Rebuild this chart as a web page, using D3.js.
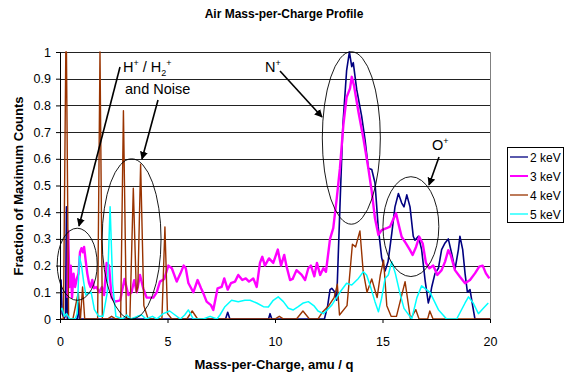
<!DOCTYPE html>
<html>
<head>
<meta charset="utf-8">
<script src="https://cdn.jsdelivr.net/npm/d3@7"></script>
<style>
  body { margin: 0; background: #fff; }
  text { font-family: "Liberation Sans", Arial, sans-serif; }
</style>
</head>
<body>
<script>
// [mass-per-charge, fraction of max counts]
var kev2 = [[0,0.03],[0.05,0.146],[0.1,0.02],[0.2,0],[0.26,0.02],[0.3,0.42],[0.34,0],[0.8,0],[0.85,0.06],[0.9,0],
  [7.7,0],[7.8,0.025],[7.9,0],[9.7,0],[9.77,0.02],[9.85,0],[12.3,0],[12.45,0.05],[12.56,0.11],[12.64,0.115],[12.79,0.1],
  [12.87,0.07],[13.02,0.42],[13.16,0.73],[13.33,0.93],[13.46,1.0],[13.57,0.945],[13.64,0.96],[13.8,0.86],[14.03,0.76],
  [14.19,0.67],[14.34,0.565],[14.5,0.56],[14.65,0.51],[14.8,0.345],[14.96,0.23],[15.12,0.18],[15.26,0.215],[15.43,0.32],
  [15.58,0.42],[15.74,0.47],[15.89,0.435],[16.0,0.42],[16.13,0.465],[16.28,0.42],[16.43,0.31],[16.51,0.295],[16.67,0.31],
  [16.82,0.26],[16.98,0.146],[17.13,0.06],[17.21,0.083],[17.29,0.12],[17.44,0.17],[17.6,0.19],[17.75,0.26],[17.91,0.285],
  [18.06,0.3],[18.22,0.245],[18.37,0.185],[18.53,0.26],[18.6,0.31],[18.73,0.26],[18.84,0.17],[18.95,0.1],[19.07,0.11],
  [19.2,0.046],[19.3,0],[20,0]];

var kev3 = [[0.35,0.08],[0.38,0.33],[0.44,0.12],[0.5,0.2],[0.56,0.08],[0.63,0.17],[0.7,0.12],[0.78,0.15],[0.86,0.17],
  [0.93,0.25],[1.0,0.265],[1.06,0.25],[1.12,0.27],[1.2,0.215],[1.27,0.17],[1.35,0.135],[1.42,0.12],[1.5,0.146],[1.58,0.115],
  [1.7,0.12],[1.82,0.1],[1.95,0.12],[2.05,0.09],[2.17,0.21],[2.28,0.2],[2.4,0.08],[2.56,0.065],[2.8,0.07],[3.0,0.15],
  [3.18,0.09],[3.33,0.1],[3.45,0.145],[3.57,0.1],[3.72,0.165],[3.87,0.115],[4.03,0.08],[4.34,0.08],[4.5,0.1],[4.65,0.14],
  [4.85,0.15],[5.04,0.2],[5.2,0.19],[5.43,0.14],[5.6,0.17],[5.75,0.2],[5.85,0.19],[5.97,0.135],[6.2,0.1],[6.4,0.146],
  [6.56,0.115],[6.67,0.096],[6.82,0.065],[7.02,0.052],[7.13,0.034],[7.33,0.115],[7.52,0.12],[7.64,0.152],[7.8,0.11],
  [7.95,0.134],[8.14,0.14],[8.29,0.165],[8.48,0.146],[8.64,0.152],[8.79,0.14],[8.99,0.152],[9.15,0.12],[9.3,0.21],
  [9.41,0.233],[9.53,0.2],[9.72,0.227],[9.92,0.21],[10.13,0.26],[10.28,0.2],[10.43,0.24],[10.54,0.196],[10.7,0.146],
  [10.82,0.15],[11.0,0.183],[11.24,0.165],[11.4,0.146],[11.55,0.19],[11.67,0.2],[11.83,0.16],[11.95,0.21],[12.1,0.165],
  [12.25,0.19],[12.37,0.177],[12.56,0.3],[12.71,0.34],[12.87,0.45],[13.02,0.565],[13.18,0.727],[13.33,0.83],[13.49,0.864],
  [13.57,0.907],[13.67,0.876],[13.88,0.776],[14.11,0.677],[14.34,0.565],[14.5,0.477],[14.65,0.377],[14.81,0.315],
  [14.96,0.333],[15.19,0.34],[15.35,0.346],[15.48,0.37],[15.63,0.396],[15.74,0.358],[15.89,0.308],[16.09,0.283],
  [16.28,0.258],[16.4,0.24],[16.56,0.27],[16.71,0.308],[16.87,0.283],[17.02,0.21],[17.18,0.19],[17.36,0.2],[17.55,0.165],
  [17.75,0.183],[17.91,0.215],[18.06,0.258],[18.17,0.24],[18.37,0.183],[18.6,0.158],[18.84,0.134],[19.07,0.146],
  [19.3,0.171],[19.5,0.196],[19.66,0.2],[19.81,0.171],[19.97,0.152]];

var kev4 = [[0,0],[0.16,0],[0.27,1.0],[0.3,1.0],[0.4,0],[0.6,0],[0.85,0.1],[0.95,0],[1.05,0.12],[1.15,0],
  [1.75,0],[1.86,1.0],[1.97,0],[2.2,0],[2.4,0.01],[2.6,0],[2.82,0],[2.95,0.78],[3.09,0],[3.25,0],[3.41,0.49],[3.55,0.1],
  [3.62,0.12],[3.75,0.58],[3.9,0.05],[4.1,0],[4.74,0],[4.88,0.345],[5.0,0.02],[5.2,0],[5.9,0],[6.15,0.03],[6.4,0],
  [10.0,0],[10.2,0.01],[10.4,0],[11.0,0],[11.3,0.03],[11.6,0],[12.0,0],[12.2,0.025],[12.5,0.05],[12.75,0.08],[12.9,0.13],
  [13.0,0.015],[13.35,0.05],[13.6,0.28],[13.75,0.27],[13.95,0.33],[14.1,0.18],[14.28,0.1],[14.5,0.15],[14.75,0.08],
  [14.9,0.165],[15.05,0.22],[15.2,0.05],[15.4,0.01],[15.65,0.01],[16.05,0.14],[16.3,0],[16.55,0.035],[16.7,0],[17.1,0],
  [17.2,0.03],[17.35,0],[20,0]];

var kev5 = [[0,0.03],[0.1,0.04],[0.2,0.01],[0.3,0.02],[0.45,0],[0.7,0],[0.8,0.02],[0.9,0.235],[1.0,0.2],[1.1,0.14],
  [1.2,0.09],[1.3,0.095],[1.45,0.1],[1.6,0.035],[1.8,0.01],[2.0,0.01],[2.2,0.1],[2.33,0.42],[2.45,0.13],[2.6,0.01],
  [2.9,0],[3.1,0.015],[3.3,0],[3.6,0.01],[3.8,0.015],[4.0,0],[4.3,0.01],[4.5,0],[4.8,0.02],[5.1,0.03],[5.35,0.015],
  [5.6,0],[5.8,0.015],[5.97,0.034],[6.2,0],[6.67,0],[6.98,0.01],[7.3,0],[7.44,0.015],[7.67,0.046],[7.98,0.07],[8.29,0.065],
  [8.6,0.07],[8.84,0.07],[9.15,0.06],[9.46,0.046],[9.69,0.045],[9.92,0.07],[10.15,0.083],[10.39,0.065],[10.62,0.04],
  [10.85,0.034],[11.08,0.046],[11.32,0.06],[11.55,0.065],[11.83,0.048],[12.0,0.03],[12.25,0.02],[12.64,0.052],[13.02,0.1],
  [13.33,0.134],[13.57,0.127],[13.88,0.152],[14.11,0.177],[14.26,0.165],[14.42,0.127],[14.65,0.065],[14.81,0.027],
  [14.96,0.078],[15.12,0.152],[15.27,0.165],[15.43,0.215],[15.6,0.17],[15.8,0.1],[16.0,0.04],[16.36,0],[16.6,0.08],
  [16.82,0.124],[17.21,0.1],[17.6,0.035],[17.98,0],[18.45,0],[18.84,0.06],[19.0,0.083],[19.22,0.06],[19.46,0.02],
  [19.69,0.04],[19.92,0.06]];

var seriesNames = ["2 keV", "3 keV", "4 keV", "5 keV"];
var seriesColors = ["#000080", "#ff00ff", "#993300", "#00ffff"];
var seriesWidths = [1.6, 2.4, 1.4, 1.5];
var yTicks = [0, 0.1, 0.2, 0.3, 0.4, 0.5, 0.6, 0.7, 0.8, 0.9, 1];
var xTicks = [0, 5, 10, 15, 20];

function build(){
  var width = 568, height = 375;
  var left = 60, right = 490, top = 52, bottom = 319;

  var svg = d3.select("body").append("svg").attr("width", width).attr("height", height);

  var x = d3.scaleLinear().domain([0, 20]).range([left, right]);
  var y = d3.scaleLinear().domain([0, 1]).range([bottom, top]);

  svg.append("clipPath").attr("id", "plot")
    .append("rect").attr("x", left).attr("y", top - 1).attr("width", right - left).attr("height", bottom - top + 1);

  // gridlines
  svg.append("g").selectAll("line").data(yTicks.slice(1)).enter().append("line")
    .attr("x1", left).attr("x2", right)
    .attr("y1", function(d){ return Math.round(y(d)) + 0.5; })
    .attr("y2", function(d){ return Math.round(y(d)) + 0.5; })
    .attr("stroke", "#222").attr("stroke-width", 1);

  svg.append("line").attr("x1", right + 0.5).attr("x2", right + 0.5).attr("y1", top).attr("y2", bottom)
    .attr("stroke", "#808080");

  var line = d3.line().x(function(d){ return x(d[0]); }).y(function(d){ return y(d[1]); });
  var data = [kev2, kev3, kev4, kev5];

  svg.append("g").attr("clip-path", "url(#plot)").selectAll("path").data(data).enter().append("path")
    .attr("d", line)
    .attr("fill", "none")
    .attr("stroke", function(d, i){ return seriesColors[i]; })
    .attr("stroke-width", function(d, i){ return seriesWidths[i]; })
    .attr("stroke-linejoin", "round");

  // axes
  var yAxis = svg.append("g").attr("transform", "translate(" + left + ",0)")
    .call(d3.axisLeft(y).tickValues(yTicks).tickSize(4).tickPadding(5).tickFormat(d3.format("~g")));
  var xAxis = svg.append("g").attr("transform", "translate(0," + bottom + ")")
    .call(d3.axisBottom(x).tickValues(xTicks).tickSize(4).tickPadding(14));
  [yAxis, xAxis].forEach(function(a){
    a.selectAll("text").attr("font-size", 12.5).attr("fill", "#000")
      .style("font-family", "'Liberation Sans', Arial, sans-serif");
    a.selectAll("line,path").attr("stroke", "#000");
  });

  // titles
  svg.append("text").attr("x", 284).attr("y", 18).attr("text-anchor", "middle")
    .attr("font-size", 12).attr("font-weight", "bold").text("Air Mass-per-Charge Profile");
  svg.append("text").attr("x", 274).attr("y", 369).attr("text-anchor", "middle")
    .attr("font-size", 13).attr("font-weight", "bold").text("Mass-per-Charge, amu / q");
  svg.append("text").attr("transform", "translate(23,186) rotate(-90)").attr("text-anchor", "middle")
    .attr("font-size", 13).attr("font-weight", "bold").text("Fraction of Maximum Counts");

  // annotations
  svg.append("defs").append("marker").attr("id", "arrow")
    .attr("viewBox", "0 0 10 10").attr("refX", 9).attr("refY", 5)
    .attr("markerWidth", 5).attr("markerHeight", 5).attr("orient", "auto")
    .append("path").attr("d", "M0,0 L10,5 L0,10 z").attr("fill", "#000");

  var ellipses = [[0.8, 0.205, 0.93, 0.135], [3.33, 0.3, 1.37, 0.3], [13.55, 0.678, 1.35, 0.323], [16.32, 0.346, 1.3, 0.187]];
  svg.append("g").selectAll("ellipse").data(ellipses).enter().append("ellipse")
    .attr("cx", function(d){ return x(d[0]); }).attr("cy", function(d){ return y(d[1]); })
    .attr("rx", function(d){ return x(d[2]) - x(0); }).attr("ry", function(d){ return y(0) - y(d[3]); })
    .attr("fill", "none").attr("stroke", "#000").attr("stroke-width", 0.9);

  var arrows = [[120, 67, 79, 226], [158, 100, 142, 159], [280, 71, 322, 117], [439, 157, 429, 185]];
  svg.append("g").selectAll("line").data(arrows).enter().append("line")
    .attr("x1", function(d){ return d[0]; }).attr("y1", function(d){ return d[1]; })
    .attr("x2", function(d){ return d[2]; }).attr("y2", function(d){ return d[3]; })
    .attr("stroke", "#000").attr("stroke-width", 1.6).attr("marker-end", "url(#arrow)");

  var h = svg.append("text").attr("x", 123).attr("y", 72).attr("font-size", 14.5);
  h.append("tspan").text("H");
  h.append("tspan").attr("dy", -6).attr("font-size", 9).text("+");
  h.append("tspan").attr("dy", 6).text(" / H");
  h.append("tspan").attr("dy", 4).attr("font-size", 9).text("2");
  h.append("tspan").attr("dy", -10).attr("font-size", 9).text("+");
  svg.append("text").attr("x", 125).attr("y", 94).attr("font-size", 14.5).text("and Noise");

  var n = svg.append("text").attr("x", 265).attr("y", 72).attr("font-size", 14.5);
  n.append("tspan").text("N");
  n.append("tspan").attr("dy", -6).attr("font-size", 9).text("+");
  var o = svg.append("text").attr("x", 432).attr("y", 150).attr("font-size", 14.5);
  o.append("tspan").text("O");
  o.append("tspan").attr("dy", -6).attr("font-size", 9).text("+");

  // legend
  var lg = svg.append("g");
  lg.append("rect").attr("x", 507.5).attr("y", 147.5).attr("width", 56).attr("height", 75)
    .attr("fill", "#fff").attr("stroke", "#000");
  var item = lg.selectAll(".item").data(seriesNames).enter().append("g")
    .attr("transform", function(d, i){ return "translate(0," + (157 + i * 19) + ")"; });
  item.append("line").attr("x1", 510).attr("x2", 528).attr("y1", 0).attr("y2", 0)
    .attr("stroke", function(d, i){ return seriesColors[i]; })
    .attr("stroke-width", function(d, i){ return i == 1 ? 2 : 1.3; });
  item.append("text").attr("x", 530).attr("y", 4.5).attr("font-size", 12).text(function(d){ return d; });
}

build();
</script>
</body>
</html>
